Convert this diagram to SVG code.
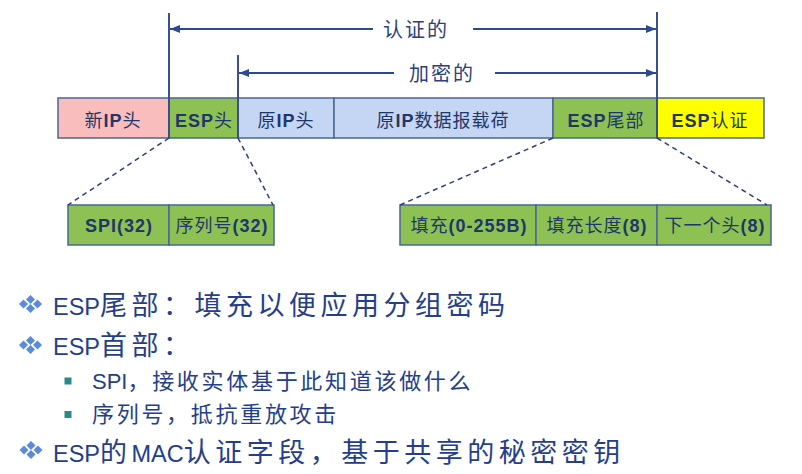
<svg xmlns="http://www.w3.org/2000/svg" width="802" height="474" viewBox="0 0 802 474">
<style>
.box{stroke:#4A6794;stroke-width:1.5}
.pink{fill:#F9BDBD}.green{fill:#8DC153}.blue{fill:#C5D5F4}.yellow{fill:#FFFF00}
.lbl{font-family:"Liberation Sans","Noto Sans CJK SC",sans-serif;font-size:18px;fill:#1F3768;text-anchor:middle;letter-spacing:1px}
.lat{font-weight:bold;font-family:"Liberation Sans",sans-serif}
.cjk{font-family:"Noto Sans CJK SC",sans-serif}
.vline{stroke:#3B4E8E;stroke-width:2}
.arr{stroke:#2E4A8E;stroke-width:2}
.dash{stroke:#2F3E7E;stroke-width:1.5;stroke-dasharray:5 4;fill:none}
.top{font-family:"Noto Sans CJK SC",sans-serif;font-size:20px;fill:#2D3F7E;letter-spacing:2px}
.b1{font-family:"Liberation Sans","Noto Sans CJK SC",sans-serif;fill:#243E8C}
.l1{font-size:23.5px}.c1{font-family:"Noto Sans CJK SC",sans-serif;font-size:27px;letter-spacing:4.5px}
.l2{font-size:22px}.c2{font-family:"Noto Sans CJK SC",sans-serif;font-size:22px;letter-spacing:2.7px}
.dia{fill:#5A8BDB}.sq{fill:#2A8A8A}
</style>
<defs>
<marker id="ah" markerUnits="userSpaceOnUse" markerWidth="10" markerHeight="8" refX="10" refY="4" orient="auto-start-reverse">
<path d="M0,0 L10,4 L0,8 z" fill="#2E4A8E"/>
</marker>
<g id="bul">
<path class="dia" d="M-7,-4.5 l4.5,4.5 l-4.5,4.5 l-4.5,-4.5 z"/>
<path class="dia" d="M7,-4.5 l4.5,4.5 l-4.5,4.5 l-4.5,-4.5 z"/>
<path class="dia" d="M0,-9 l4.5,4.5 l-4.5,4.5 l-4.5,-4.5 z"/>
<path class="dia" d="M0,0 l4.5,4.5 l-4.5,4.5 l-4.5,-4.5 z"/>
</g>
</defs>
<rect width="802" height="474" fill="#FFFFFF"/>

<g id="new-ip"><rect class="box pink" x="58" y="98" width="111" height="40"/><text class="lbl" x="113" y="127"><tspan class="cjk">新</tspan><tspan class="lat">IP</tspan><tspan class="cjk">头</tspan></text></g>
<g id="esp-head"><rect class="box green" x="169" y="98" width="69" height="40"/><text class="lbl" x="204" y="127"><tspan class="lat">ESP</tspan><tspan class="cjk">头</tspan></text></g>
<g id="orig-ip"><rect class="box blue" x="238" y="98" width="96" height="40"/><text class="lbl" x="286" y="127"><tspan class="cjk">原</tspan><tspan class="lat">IP</tspan><tspan class="cjk">头</tspan></text></g>
<g id="payload"><rect class="box blue" x="334" y="98" width="219" height="40"/><text class="lbl" x="443" y="127"><tspan class="cjk">原</tspan><tspan class="lat">IP</tspan><tspan class="cjk">数据报载荷</tspan></text></g>
<g id="esp-trailer"><rect class="box green" x="553" y="98" width="104" height="40"/><text class="lbl" x="606" y="127"><tspan class="lat">ESP</tspan><tspan class="cjk">尾部</tspan></text></g>
<g id="esp-auth"><rect class="box yellow" x="657" y="98" width="107" height="40"/><text class="lbl" x="710" y="127"><tspan class="lat">ESP</tspan><tspan class="cjk">认证</tspan></text></g>

<g id="spi"><rect class="box green" x="68" y="205" width="101" height="40"/><text class="lbl" x="119" y="232"><tspan class="lat">SPI(32)</tspan></text></g>
<g id="seq"><rect class="box green" x="169" y="205" width="105" height="40"/><text class="lbl" x="222" y="232"><tspan class="cjk">序列号</tspan><tspan class="lat">(32)</tspan></text></g>
<g id="pad"><rect class="box green" x="400" y="205" width="136" height="40"/><text class="lbl" x="469" y="232"><tspan class="cjk">填充</tspan><tspan class="lat">(0-255B)</tspan></text></g>
<g id="padlen"><rect class="box green" x="536" y="205" width="121" height="40"/><text class="lbl" x="597" y="232"><tspan class="cjk">填充长度</tspan><tspan class="lat">(8)</tspan></text></g>
<g id="next"><rect class="box green" x="657" y="205" width="114" height="40"/><text class="lbl" x="715" y="232"><tspan class="cjk">下一个头</tspan><tspan class="lat">(8)</tspan></text></g>

<g id="connectors">
<line class="vline" x1="169" y1="13" x2="169" y2="138"/>
<line class="vline" x1="238" y1="55" x2="238" y2="138"/>
<line class="vline" x1="657" y1="12" x2="657" y2="138"/>
<line class="arr" x1="373" y1="29" x2="170" y2="29" marker-end="url(#ah)"/>
<line class="arr" x1="473" y1="29" x2="656" y2="29" marker-end="url(#ah)"/>
<line class="arr" x1="394" y1="73" x2="239" y2="73" marker-end="url(#ah)"/>
<line class="arr" x1="495" y1="73" x2="656" y2="73" marker-end="url(#ah)"/>
<line class="dash" x1="169" y1="138" x2="68" y2="205"/>
<line class="dash" x1="238" y1="138" x2="273" y2="205"/>
<line class="dash" x1="553" y1="138" x2="400" y2="205"/>
<line class="dash" x1="657" y1="138" x2="767" y2="205"/>
</g>
<g id="range-labels">
<text class="top" x="383" y="37">认证的</text>
<text class="top" x="409" y="81">加密的</text>
</g>

<g id="notes">
<use href="#bul" x="30.5" y="304"/>
<use href="#bul" x="30.5" y="345"/>
<use href="#bul" x="31" y="450"/>
<rect class="sq" x="64.5" y="377.5" width="7" height="7"/>
<rect class="sq" x="64.5" y="411" width="7" height="7"/>
<text class="b1" x="53" y="315"><tspan class="l1">ESP</tspan><tspan class="c1">尾部：填充以便应用分组密码</tspan></text>
<text class="b1" x="53" y="355"><tspan class="l1">ESP</tspan><tspan class="c1">首部：</tspan></text>
<text class="b1" x="92" y="389"><tspan class="l2">SPI</tspan><tspan class="c2">，接收实体基于此知道该做什么</tspan></text>
<text class="b1" x="92" y="422"><tspan class="c2">序列号，抵抗重放攻击</tspan></text>
<text class="b1" x="53" y="462"><tspan class="l1">ESP</tspan><tspan class="c1">的</tspan><tspan class="l1">MAC</tspan><tspan class="c1">认证字段，基于共享的秘密密钥</tspan></text>
</g>
</svg>
